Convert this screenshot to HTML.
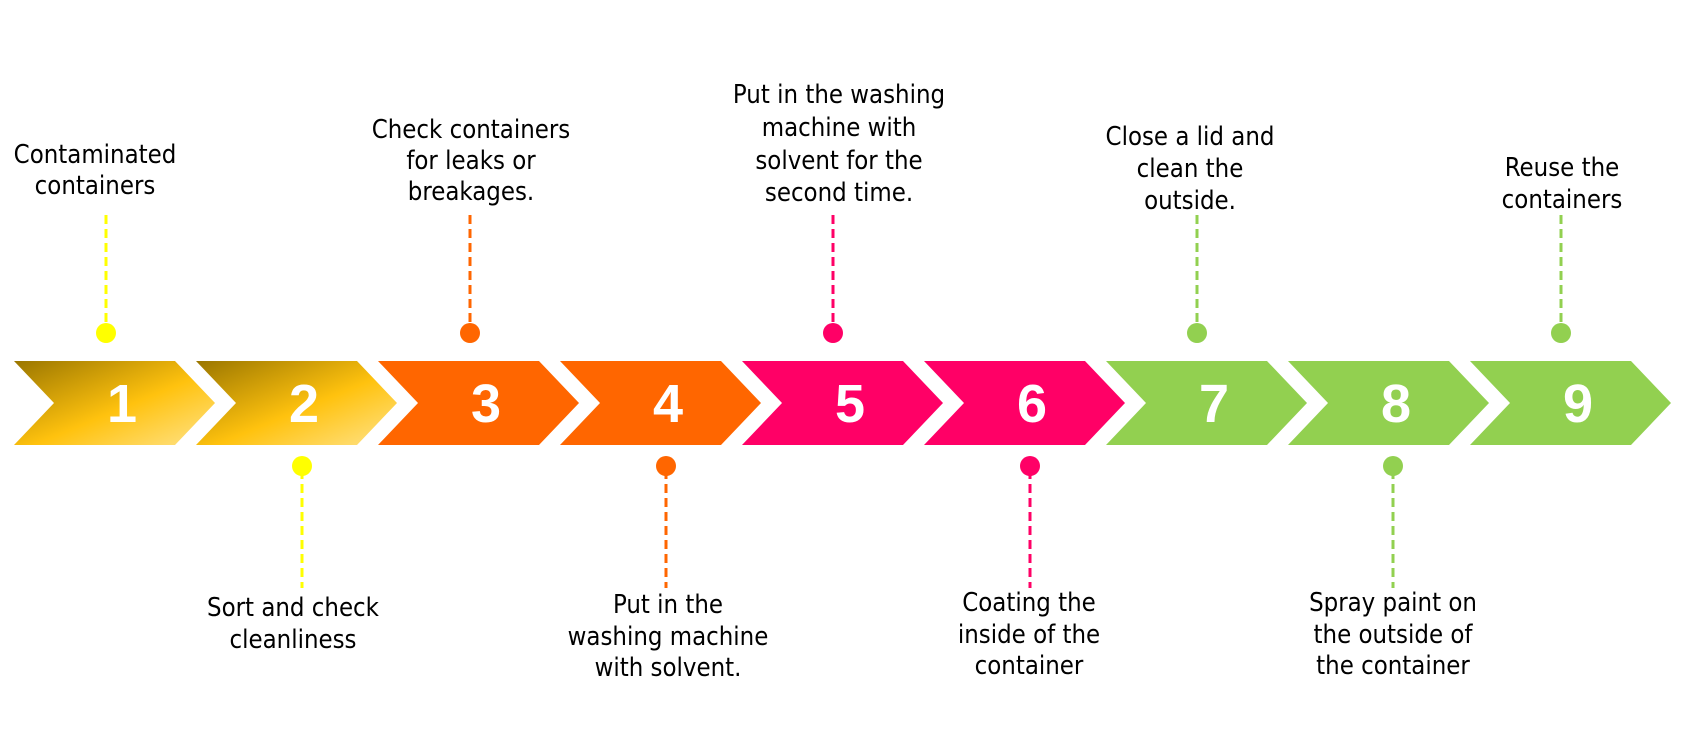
<!DOCTYPE html>
<html><head><meta charset="utf-8"><style>
html,body{margin:0;padding:0;background:#fff;}
svg{display:block;}
text.l{font-family:"DejaVu Sans Condensed","DejaVu Sans","Liberation Sans",sans-serif;font-size:25.5px;fill:#000;text-anchor:middle;}
text.n{font-family:"Liberation Sans",sans-serif;font-weight:bold;font-size:54px;fill:#fff;text-anchor:middle;}
</style></head><body>
<svg width="1701" height="756" viewBox="0 0 1701 756" xmlns="http://www.w3.org/2000/svg">
<defs>
<linearGradient id="g" x1="0" y1="0" x2="1" y2="1">
<stop offset="0" stop-color="#9a7600"/>
<stop offset="0.55" stop-color="#ffc20e"/>
<stop offset="1" stop-color="#ffe38a"/>
</linearGradient>
</defs>
<g>
<polygon points="14,361 175,361 215,403 175,445 14,445 54,403" fill="url(#g)"/>
<polygon points="196,361 357,361 397,403 357,445 196,445 236,403" fill="url(#g)"/>
<polygon points="378,361 539,361 579,403 539,445 378,445 418,403" fill="#ff6600"/>
<polygon points="560,361 721,361 761,403 721,445 560,445 600,403" fill="#ff6600"/>
<polygon points="742,361 903,361 943,403 903,445 742,445 782,403" fill="#ff0066"/>
<polygon points="924,361 1085,361 1125,403 1085,445 924,445 964,403" fill="#ff0066"/>
<polygon points="1106,361 1267,361 1307,403 1267,445 1106,445 1146,403" fill="#92d050"/>
<polygon points="1288,361 1449,361 1489,403 1449,445 1288,445 1328,403" fill="#92d050"/>
<polygon points="1470,361 1631,361 1671,403 1631,445 1470,445 1510,403" fill="#92d050"/>
</g>
<g>
<text class="n" x="122" y="422">1</text>
<text class="n" x="304" y="422">2</text>
<text class="n" x="486" y="422">3</text>
<text class="n" x="668" y="422">4</text>
<text class="n" x="850" y="422">5</text>
<text class="n" x="1032" y="422">6</text>
<text class="n" x="1214" y="422">7</text>
<text class="n" x="1396" y="422">8</text>
<text class="n" x="1578" y="422">9</text>
</g>
<g stroke-width="3" stroke-dasharray="9,5">
<line x1="106" y1="215" x2="106" y2="330" stroke="#ffff00"/>
<line x1="470" y1="215" x2="470" y2="330" stroke="#ff6600"/>
<line x1="833" y1="215" x2="833" y2="330" stroke="#ff0066"/>
<line x1="1197" y1="215" x2="1197" y2="330" stroke="#92d050"/>
<line x1="1561" y1="215" x2="1561" y2="330" stroke="#92d050"/>
<line x1="302" y1="470" x2="302" y2="588" stroke="#ffff00"/>
<line x1="666" y1="470" x2="666" y2="588" stroke="#ff6600"/>
<line x1="1030" y1="470" x2="1030" y2="588" stroke="#ff0066"/>
<line x1="1393" y1="470" x2="1393" y2="588" stroke="#92d050"/>
</g>
<g>
<circle cx="106" cy="333" r="10" fill="#ffff00"/>
<circle cx="470" cy="333" r="10" fill="#ff6600"/>
<circle cx="833" cy="333" r="10" fill="#ff0066"/>
<circle cx="1197" cy="333" r="10" fill="#92d050"/>
<circle cx="1561" cy="333" r="10" fill="#92d050"/>
<circle cx="302" cy="466" r="10" fill="#ffff00"/>
<circle cx="666" cy="466" r="10" fill="#ff6600"/>
<circle cx="1030" cy="466" r="10" fill="#ff0066"/>
<circle cx="1393" cy="466" r="10" fill="#92d050"/>
</g>
<g>
<text class="l" x="95" y="163">Contaminated</text>
<text class="l" x="95" y="194">containers</text>
<text class="l" x="471" y="138">Check containers</text>
<text class="l" x="471" y="169">for leaks or</text>
<text class="l" x="471" y="200">breakages.</text>
<text class="l" x="839" y="103">Put in the washing</text>
<text class="l" x="839" y="136">machine with</text>
<text class="l" x="839" y="169">solvent for the</text>
<text class="l" x="839" y="201">second time.</text>
<text class="l" x="1190" y="145">Close a lid and</text>
<text class="l" x="1190" y="177">clean the</text>
<text class="l" x="1190" y="209">outside.</text>
<text class="l" x="1562" y="176">Reuse the</text>
<text class="l" x="1562" y="208">containers</text>
<text class="l" x="293" y="616">Sort and check</text>
<text class="l" x="293" y="648">cleanliness</text>
<text class="l" x="668" y="613">Put in the</text>
<text class="l" x="668" y="645">washing machine</text>
<text class="l" x="668" y="676">with solvent.</text>
<text class="l" x="1029" y="611">Coating the</text>
<text class="l" x="1029" y="643">inside of the</text>
<text class="l" x="1029" y="674">container</text>
<text class="l" x="1393" y="611">Spray paint on</text>
<text class="l" x="1393" y="643">the outside of</text>
<text class="l" x="1393" y="674">the container</text>
</g>
</svg>
</body></html>
